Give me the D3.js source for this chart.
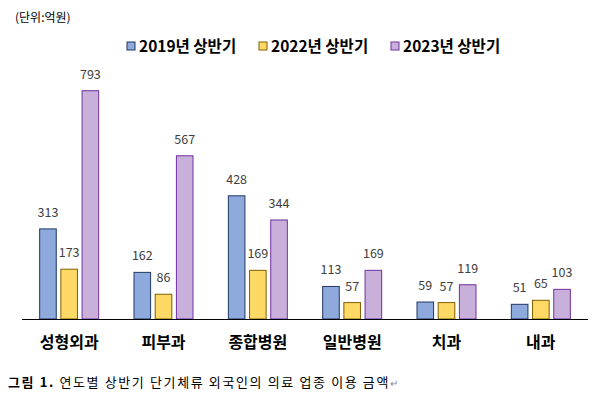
<!DOCTYPE html>
<html>
<head>
<meta charset="utf-8">
<script src="https://cdn.jsdelivr.net/npm/d3@7"></script>
<style>
  body { margin: 0; background: #fff; }
  svg { display: block; }
</style>
</head>
<body>
<div id="chart"></div>
<script>
const categories = ["성형외과", "피부과", "종합병원", "일반병원", "치과", "내과"];
const seriesNames = ["2019년 상반기", "2022년 상반기", "2023년 상반기"];
const values2019 = [313, 162, 428, 113, 59, 51];
const values2022 = [173, 86, 169, 57, 57, 65];
const values2023 = [793, 567, 344, 169, 119, 103];
const seriesValues = [values2019, values2022, values2023];

const fills = ["#8EA9DB", "#FFD966", "#C9B0DA"];
const strokes = ["#1F3864", "#7F6000", "#7030A0"];

const width = 598;
const height = 400;
const font = "'Noto Sans CJK KR', 'Noto Sans', sans-serif";

const svg = d3.select("#chart").append("svg")
  .attr("width", width)
  .attr("height", height)
  .style("font-family", font);

// scales
const x0 = d3.scaleBand()
  .domain(categories)
  .range([22, 588])
  .paddingInner(0.364)
  .paddingOuter(0.182);

const x1 = d3.scaleBand()
  .domain(d3.range(seriesNames.length))
  .range([0, x0.bandwidth()])
  .paddingInner(0.17);

const y = d3.scaleLinear()
  .domain([0, 800])
  .range([319, 88.7]);

// unit label
svg.append("text")
  .attr("x", 15)
  .attr("y", 22)
  .style("font-size", "12px")
  .style("fill", "#000")
  .text("(단위:억원)");

// legend
const legendX = [127, 259, 391];
const legend = svg.append("g");
const li = legend.selectAll("g")
  .data(seriesNames)
  .join("g")
    .attr("transform", (d, i) => `translate(${legendX[i]}, 42)`);
li.append("rect")
  .attr("width", 8)
  .attr("height", 8)
  .attr("fill", (d, i) => fills[i])
  .attr("stroke", (d, i) => strokes[i])
  .attr("stroke-width", 1);
li.append("text")
  .attr("x", 12)
  .attr("y", 9.5)
  .style("font-size", "15.5px")
  .style("font-weight", "700")
  .style("fill", "#000")
  .text(d => d);

// bars
const groups = svg.append("g")
  .selectAll("g")
  .data(categories)
  .join("g")
    .attr("transform", d => `translate(${x0(d)},0)`);

const cells = groups.selectAll("g")
  .data((d, ci) => seriesValues.map((s, si) => ({ si, v: s[ci] })))
  .join("g");

cells.append("rect")
  .attr("x", d => x1(d.si) + 0.5)
  .attr("y", d => y(d.v))
  .attr("width", x1.bandwidth() - 1)
  .attr("height", d => y(0) - y(d.v))
  .attr("fill", d => fills[d.si])
  .attr("stroke", d => strokes[d.si])
  .attr("stroke-width", 1);

cells.append("text")
  .attr("x", d => x1(d.si) + x1.bandwidth() / 2)
  .attr("y", d => y(d.v) - 12)
  .attr("text-anchor", "middle")
  .style("font-size", "12.5px")
  .style("fill", "#404040")
  .text(d => d.v);

// baseline
svg.append("line")
  .attr("x1", 22)
  .attr("x2", 588)
  .attr("y1", y(0) + 0.5)
  .attr("y2", y(0) + 0.5)
  .attr("stroke", "#000")
  .attr("stroke-width", 1.2);

// category labels
svg.append("g")
  .selectAll("text")
  .data(categories)
  .join("text")
    .attr("x", d => x0(d) + x0.bandwidth() / 2)
    .attr("y", 348)
    .attr("text-anchor", "middle")
    .style("font-size", "16px")
    .style("font-weight", "700")
    .style("fill", "#000")
    .text(d => d);

// caption
const cap = svg.append("text")
  .attr("x", 8)
  .attr("y", 387)
  .attr("textLength", 390)
  .attr("lengthAdjust", "spacing")
  .style("font-size", "13px")
  .style("fill", "#000");
cap.append("tspan").style("font-weight", "700").text("그림 1.");
cap.append("tspan").text(" 연도별 상반기 단기체류 외국인의 의료 업종 이용 금액");
cap.append("tspan").style("fill", "#888").style("font-size", "10px").text("↵");
</script>
</body>
</html>
